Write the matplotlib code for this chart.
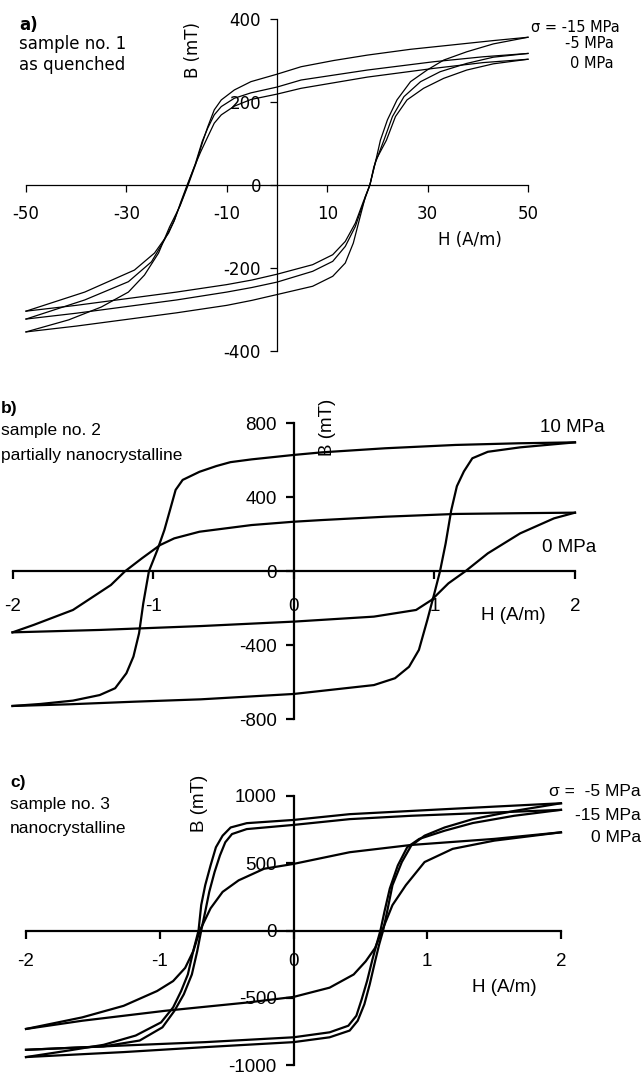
import matplotlib
matplotlib.use("Agg")
import matplotlib.pyplot as plt

plt.rcParams['axes.unicode_minus'] = False

W, H = 644, 1076

# ---------------- data: panel a (sample no. 1, as quenched) ----------------
a_m15_desc_H = [50, 43.1, 34.5, 26.6, 18, 11.3, 4.8, 0, -5.2, -8.5, -11.1, -12.5, -13.8, -14.7, -16.2, -17.7, -19.3, -21.4, -23.6, -26.4, -29.6, -35, -41.5, -50]
a_m15_desc_B = [356, 348, 337, 327, 313, 300, 285, 267, 249, 229, 205, 181, 140, 108, 50, 0, -50, -101, -164, -217, -258, -294, -325, -354]
a_m15_asc_H = [-50, -40, -30, -20, -10, -5, 0, 7.1, 11.1, 13.6, 15.2, 16.4, 17.6, 18.5, 19.7, 20.6, 22.0, 23.9, 26.6, 29.9, 33.2, 37.8, 43.1, 50]
a_m15_asc_B = [-354, -340, -324, -308, -290, -278, -264, -244, -220, -188, -140, -84, -28, 0, 60, 108, 157, 205, 249, 277, 301, 321, 340, 356]

a_m5_desc_H = [50, 41.1, 31.2, 18, 4.8, 0, -5.2, -8.5, -11.1, -12.5, -13.8, -14.9, -16.3, -17.8, -19.2, -20.6, -22.4, -25, -29.6, -38.3, -50]
a_m5_desc_B = [317, 309, 297, 277, 253, 236, 222, 209, 189, 169, 137, 105, 50, 0, -45, -89, -132, -185, -233, -277, -323]
a_m5_asc_H = [-50, -40, -30, -20, -10, -5, 0, 7.1, 11.1, 13.6, 15.6, 17.2, 18.5, 19.3, 21.3, 23, 25.3, 28.6, 32.5, 37.8, 43.1, 50]
a_m5_asc_B = [-323, -309, -293, -277, -258, -247, -234, -208, -184, -148, -100, -44, 0, 44, 108, 165, 213, 249, 273, 293, 308, 317]

a_0_desc_H = [50, 41.1, 31.2, 18, 4.8, 0, -5.2, -8.5, -11.1, -12.5, -13.8, -15.2, -16.6, -17.9, -19.2, -20.4, -21.6, -24.4, -28.4, -38.3, -50]
a_0_desc_B = [303, 295, 281, 260, 233, 219, 206, 190, 169, 149, 116, 80, 40, 0, -42, -84, -116, -164, -205, -258, -304]
a_0_asc_H = [-50, -40, -30, -20, -10, -5, 0, 7.1, 11.1, 13.6, 15.6, 17.2, 18.5, 19.7, 21.8, 23.6, 25.9, 29.2, 33.2, 37.8, 43.1, 50]
a_0_asc_B = [-304, -290, -274, -258, -240, -229, -215, -192, -168, -136, -92, -40, 0, 60, 108, 165, 205, 233, 257, 277, 292, 303]

a_xticks = [-50, -30, -10, 10, 30, 50]
a_yticks = [-400, -200, 0, 200, 400]
a_legend = ["\u03c3 = -15 MPa", "-5 MPa", "0 MPa"]

# ---------------- data: panel b (sample no. 2, partially nanocrystalline) ----------------
b_10_desc_H = [2, 1.6, 1.15, 0.65, 0.2, 0, -0.3, -0.45, -0.55, -0.67, -0.79, -0.84, -0.88, -0.92, -0.97, -1.03, -1.07, -1.10, -1.14, -1.19, -1.27, -1.38, -1.57, -1.8, -2]
b_10_desc_B = [697, 692, 683, 665, 643, 629, 605, 590, 569, 538, 494, 440, 331, 223, 115, 0, -173, -335, -461, -551, -632, -669, -699, -717, -728]
b_10_asc_H = [-2, -1.6, -1.14, -0.66, 0, 0.57, 0.72, 0.82, 0.89, 0.95, 1.0, 1.04, 1.08, 1.12, 1.16, 1.21, 1.27, 1.38, 1.61, 2]
b_10_asc_B = [-728, -719, -705, -692, -663, -615, -578, -516, -425, -263, -119, 0, 150, 330, 460, 540, 611, 646, 670, 697]

b_0_desc_H = [2, 1.6, 1.15, 0.65, 0.2, 0, -0.3, -0.67, -0.85, -0.95, -1.08, -1.2, -1.3, -1.57, -1.85, -2]
b_0_desc_B = [317, 314, 310, 295, 277, 268, 250, 214, 178, 142, 70, 0, -74, -209, -290, -330]
b_0_asc_H = [-2, -1.38, -0.66, 0, 0.57, 0.87, 0.98, 1.1, 1.22, 1.38, 1.61, 1.85, 2]
b_0_asc_B = [-330, -317, -296, -272, -245, -209, -155, -65, 0, 97, 205, 286, 317]

b_xticks = [-2, -1, 0, 1, 2]
b_yticks = [-800, -400, 0, 400, 800]

# ---------------- data: panel c (sample no. 3, nanocrystalline) ----------------
c_m5_desc_H = [2, 1.5, 0.88, 0.42, 0, -0.35, -0.47, -0.53, -0.58, -0.62, -0.66, -0.69, -0.71, -0.75, -0.79, -0.84, -0.9, -0.99, -1.18, -1.42, -1.73, -2]
c_m5_desc_B = [946, 921, 889, 865, 822, 798, 766, 705, 619, 484, 337, 189, 0, -155, -327, -450, -572, -683, -781, -850, -900, -941]
c_m5_asc_H = [-2, -1.27, -0.66, 0, 0.27, 0.42, 0.48, 0.53, 0.57, 0.61, 0.64, 0.67, 0.7, 0.74, 0.81, 0.88, 0.98, 1.13, 1.34, 1.65, 2]
c_m5_asc_B = [-941, -904, -867, -830, -794, -744, -671, -548, -400, -229, -106, 0, 140, 337, 509, 631, 705, 766, 828, 889, 946]

c_m15_desc_H = [2, 1.5, 0.88, 0.42, 0, -0.35, -0.46, -0.51, -0.55, -0.59, -0.63, -0.66, -0.69, -0.72, -0.76, -0.82, -0.89, -0.98, -1.15, -1.42, -2]
c_m15_desc_B = [897, 877, 853, 828, 785, 754, 717, 656, 558, 435, 287, 140, 0, -155, -327, -474, -597, -720, -818, -862, -887]
c_m15_asc_H = [-2, -1.27, -0.66, 0, 0.27, 0.41, 0.47, 0.51, 0.55, 0.59, 0.62, 0.65, 0.68, 0.72, 0.78, 0.85, 0.94, 1.13, 1.34, 1.65, 2]
c_m15_asc_B = [-887, -855, -830, -794, -757, -708, -634, -511, -376, -216, -106, 0, 140, 312, 484, 619, 681, 742, 799, 853, 897]

c_0_desc_H = [2, 1.5, 0.88, 0.42, 0, -0.22, -0.41, -0.53, -0.62, -0.70, -0.75, -0.81, -0.9, -1.02, -1.27, -1.58, -2]
c_0_desc_B = [730, 681, 636, 582, 495, 459, 373, 287, 165, 0, -155, -278, -376, -450, -560, -646, -732]
c_0_asc_H = [-2, -1.58, -0.96, -0.35, 0, 0.27, 0.45, 0.54, 0.61, 0.65, 0.68, 0.74, 0.84, 0.98, 1.19, 1.5, 2]
c_0_asc_B = [-732, -671, -597, -536, -494, -425, -327, -229, -130, -32, 42, 189, 337, 509, 607, 668, 730]

c_xticks = [-2, -1, 0, 1, 2]
c_yticks = [-1000, -500, 0, 500, 1000]
c_legend = ["\u03c3 =  -5 MPa", "-15 MPa", "0 MPa"]

# ---------------- figure ----------------
fig = plt.figure(figsize=(W / 100, H / 100), dpi=100)


def px_ax(left, right, top, bottom):
    return fig.add_axes([left / W, 1 - bottom / H, (right - left) / W, (bottom - top) / H])


def ftext(x, y, s, **kw):
    fig.text(x / W, 1 - y / H, s, **kw)


def style_axes(ax, xlim, ylim, xticks, yticks, lw, family, size, ticklen, xpad, ypad):
    ax.set_xlim(*xlim)
    ax.set_ylim(*ylim)
    ax.patch.set_alpha(0)
    for s in ("top", "right"):
        ax.spines[s].set_visible(False)
    ax.spines["left"].set_position(("data", 0))
    ax.spines["bottom"].set_position(("data", 0))
    for s in ("left", "bottom"):
        ax.spines[s].set_linewidth(lw)
        ax.spines[s].set_zorder(1)
    ax.set_xticks(xticks)
    ax.set_xticklabels([str(t) for t in xticks])
    ax.set_yticks(yticks)
    ax.set_yticklabels([str(t) for t in yticks])
    ax.tick_params(axis="x", direction="out", length=ticklen, width=lw, pad=xpad)
    ax.tick_params(axis="y", direction="out", length=ticklen, width=lw, pad=ypad)
    for lab in ax.get_xticklabels() + ax.get_yticklabels():
        lab.set_fontfamily(family)
        lab.set_fontsize(size)


# ---- panel a ----
axa = px_ax(26, 528, 19, 351)
style_axes(axa, (-50, 50), (-400, 400), a_xticks, a_yticks, 0.9, "DejaVu Sans", 12, 5, 9.5, 6.5)
for h, b in [(a_m15_desc_H, a_m15_desc_B), (a_m15_asc_H, a_m15_asc_B),
             (a_m5_desc_H, a_m5_desc_B), (a_m5_asc_H, a_m5_asc_B),
             (a_0_desc_H, a_0_desc_B), (a_0_asc_H, a_0_asc_B)]:
    axa.plot(h, b, color="black", lw=0.9, clip_on=False, zorder=3)

fa = dict(family="DejaVu Sans", fontsize=12, va="center")
ftext(19, 25, "a)", fontweight="bold", **fa)
ftext(19, 44, "sample no. 1", **fa)
ftext(19, 65, "as quenched", **fa)
ftext(193, 50, "B (mT)", rotation=90, ha="center", **fa)
ftext(470, 240, "H (A/m)", ha="center", **fa)
fl = dict(family="DejaVu Sans", fontsize=10.5, va="center", ha="right")
ftext(620, 27, a_legend[0], **fl)
ftext(614, 44, a_legend[1], **fl)
ftext(614, 63, a_legend[2], **fl)

# ---- panel b ----
axb = px_ax(12.5, 575, 423.3, 719.3)
style_axes(axb, (-2, 2), (-800, 800), b_xticks, b_yticks, 1.6, "Liberation Sans", 13.5, 6, 13, 6)
for h, b in [(b_10_desc_H, b_10_desc_B), (b_10_asc_H, b_10_asc_B),
             (b_0_desc_H, b_0_desc_B), (b_0_asc_H, b_0_asc_B)]:
    axb.plot(h, b, color="black", lw=1.6, clip_on=False, zorder=3,
             solid_joinstyle="round")

fb = dict(family="Liberation Sans", fontsize=12.5, va="center")
ftext(1, 408, "b)", fontweight="bold", **fb)
ftext(1, 431, "sample no. 2", **fb)
ftext(1, 455, "partially nanocrystalline", **fb)
ftext(328, 427, "B (mT)", rotation=90, ha="center", family="Liberation Sans", fontsize=13.5, va="center")
ftext(513, 616, "H (A/m)", ha="center", family="Liberation Sans", fontsize=13.5, va="center")
ftext(605, 427, "10 MPa", ha="right", family="Liberation Sans", fontsize=13.5, va="center")
ftext(596, 548, "0 MPa", ha="right", family="Liberation Sans", fontsize=13.5, va="center")

# ---- panel c ----
axc = px_ax(26, 561, 796, 1065)
style_axes(axc, (-2, 2), (-1000, 1000), c_xticks, c_yticks, 1.6, "Liberation Sans", 13.5, 6, 10, 6)
for h, b in [(c_m5_desc_H, c_m5_desc_B), (c_m5_asc_H, c_m5_asc_B),
             (c_m15_desc_H, c_m15_desc_B), (c_m15_asc_H, c_m15_asc_B),
             (c_0_desc_H, c_0_desc_B), (c_0_asc_H, c_0_asc_B)]:
    axc.plot(h, b, color="black", lw=1.6, clip_on=False, zorder=3,
             solid_joinstyle="round")

fc = dict(family="Liberation Sans", fontsize=12.5, va="center")
ftext(10, 782, "c)", fontweight="bold", **fc)
ftext(10, 805, "sample no. 3", **fc)
ftext(10, 828, "nanocrystalline", **fc)
ftext(200, 803, "B (mT)", rotation=90, ha="center", family="Liberation Sans", fontsize=13.5, va="center")
ftext(504, 987, "H (A/m)", ha="center", family="Liberation Sans", fontsize=13.5, va="center")
flc = dict(family="Liberation Sans", fontsize=12.5, va="center", ha="right")
ftext(641, 791, c_legend[0], **flc)
ftext(641, 815, c_legend[1], **flc)
ftext(641, 838, c_legend[2], **flc)

fig.savefig("out.png", dpi=100, facecolor="white")
